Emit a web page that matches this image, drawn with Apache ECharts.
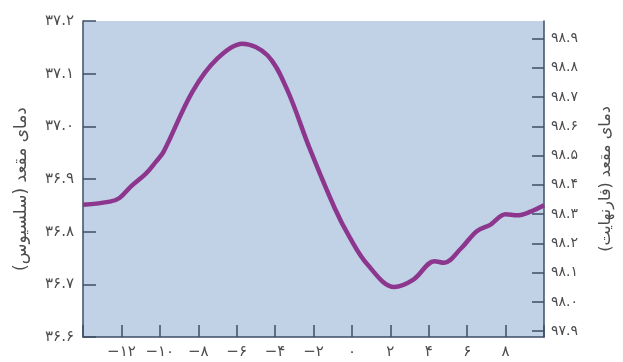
<!DOCTYPE html>
<html>
<head>
<meta charset="utf-8">
<script src="https://cdn.jsdelivr.net/npm/echarts@6/dist/echarts.min.js"></script>
<style>
  html, body { margin: 0; padding: 0; background: #fff; }
  #chart { width: 623px; height: 362px; }
</style>
</head>
<body>
<div id="chart"></div>
<script>
// hours relative to ovulation (x) and rectal temperature in C
var hours = [-14, -12.6, -12.1, -11.5, -10.7, -10.2, -9.8, -8.3, -7.0, -5.7, -4.4, -3.4, -2.2,
             -0.9, -0.1, 0.8, 2.2, 3.2, 4.3, 4.8, 5.7, 6.5, 7.2, 8.0, 8.6, 9.3, 10];
var tempsC = [36.851, 36.857, 36.864, 36.886, 36.911, 36.933, 36.952, 37.066, 37.129, 37.157, 37.135, 37.072, 36.958,
              36.845, 36.788, 36.738, 36.695, 36.709, 36.744, 36.741, 36.769, 36.801, 36.813, 36.833, 36.831, 36.838, 36.850];
var fTicks = [97.9, 98.0, 98.1, 98.2, 98.3, 98.4, 98.5, 98.6, 98.7, 98.8, 98.9];

var nameLeft = 'دمای مقعد (سلسیوس)\u200F';
var nameRight = 'دمای مقعد (فارنهایت)\u200F';

function fa(s) {
  return String(s).replace(/-/g, '−').replace(/[0-9]/g, function (d) { return '۰۱۲۳۴۵۶۷۸۹'[d]; });
}

var axisColor = '#3e4f66';
var labelColor = '#4d4d4d';
var font = 'DejaVu Sans';

var chart = echarts.init(document.getElementById('chart'));
chart.setOption({
  animation: false,
  grid: {
    left: 83, right: 79, top: 21, bottom: 25,
    show: true, backgroundColor: '#c1d1e6', borderWidth: 0
  },
  xAxis: {
    type: 'value', min: -14, max: 10, interval: 2,
    axisLine: { show: true, onZero: false, lineStyle: { color: axisColor, width: 1.5 } },
    axisTick: { show: true, inside: true, length: 12, lineStyle: { color: axisColor, width: 1.5 } },
    axisLabel: {
      color: labelColor, fontSize: 15, fontFamily: font, margin: 8,
      formatter: function (v) { return (v === -14 || v === 10) ? '' : fa(v); }
    },
    splitLine: { show: false }
  },
  yAxis: [{
    type: 'value', position: 'left', min: 36.6, max: 37.2, interval: 0.1,
    name: nameLeft, nameLocation: 'middle', nameRotate: 90, nameGap: 53,
    nameTextStyle: { color: labelColor, fontSize: 17, fontFamily: font, padding: [0, 20, 0, 0] },
    axisLine: { show: true, onZero: false, lineStyle: { color: axisColor, width: 1.5 } },
    axisTick: { show: true, inside: true, length: 13, lineStyle: { color: axisColor, width: 1.5 } },
    axisLabel: {
      color: labelColor, fontSize: 15, fontFamily: font, margin: 9,
      formatter: function (v) { return fa(v.toFixed(1)); }
    },
    splitLine: { show: false }
  }, {
    type: 'value', position: 'right', min: 97.88, max: 98.96,
    name: nameRight, nameLocation: 'middle', nameRotate: 90, nameGap: 54,
    nameTextStyle: { color: labelColor, fontSize: 16, fontFamily: font },
    axisLine: { show: true, onZero: false, lineStyle: { color: axisColor, width: 1.5 } },
    axisTick: { show: true, inside: true, length: 12, customValues: fTicks, lineStyle: { color: axisColor, width: 1.5 } },
    axisLabel: {
      color: labelColor, fontSize: 14, fontFamily: font, margin: 7, customValues: fTicks,
      formatter: function (v) { return fa(v.toFixed(1)); }
    },
    splitLine: { show: false }
  }],
  series: [{
    type: 'line', yAxisIndex: 0, smooth: 0.35, showSymbol: false,
    lineStyle: { color: '#8c378d', width: 4.5 },
    data: hours.map(function (h, i) { return [h, tempsC[i]]; })
  }]
});
</script>
</body>
</html>
